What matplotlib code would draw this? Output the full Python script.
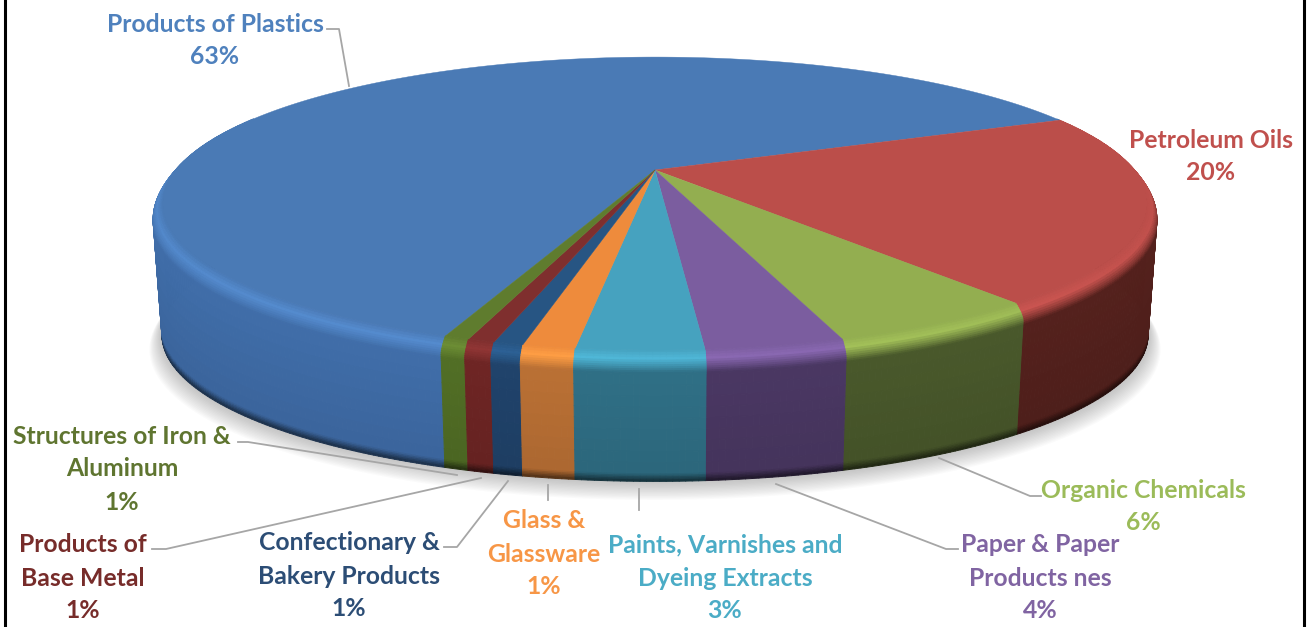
import numpy as np
import matplotlib
matplotlib.use("Agg")
import matplotlib.pyplot as plt
from matplotlib.collections import PolyCollection
from matplotlib.colors import to_rgb

plt.rcParams['font.family'] = ['Lato', 'DejaVu Sans']

# share of each slice (labels are rounded)
categories = ["Products of Plastics", "Petroleum Oils", "Organic Chemicals",
              "Paper & Paper\nProducts nes", "Paints, Varnishes and\nDyeing Extracts",
              "Glass &\nGlassware", "Confectionary &\nBakery Products",
              "Products of\nBase Metal", "Structures of Iron &\nAluminum"]
values = [63.03, 20.8, 5.65, 3.66, 3.34, 1.38, 0.78, 0.71, 0.66]
pct_labels = ["63%", "20%", "6%", "4%", "3%", "1%", "1%", "1%", "1%"]

top_colors = ["#4A7AB5", "#BB4E4A", "#93AE50", "#7B5D9F", "#46A2BF",
              "#EE8B3C", "#275583", "#7F2F2E", "#5F7C2E"]
wall_colors = ["#3E6AA4", "#52201C", "#47562A", "#483660", "#2E6C82",
               "#B56D33", "#1F4168", "#6B2423", "#4F6B24"]
text_colors = ["#4F81BD", "#C0504D", "#9BBB59", "#8064A2", "#4BACC6",
               "#F79646", "#2C4D75", "#772C2A", "#5F7530"]

# where the text goes: centre x, y of first line
label_pos = [(215, 24), (1211, 140), (1143, 490), (1040, 545), (725, 545),
             (544, 521), (349, 543), (83, 545), (122, 436)]
line_step = 33

leaders = [
    [(327, 29), (339, 29), (349, 86)],
    [(939, 458), (1030, 496), (1041, 496)],
    [(776, 484), (946, 549), (958, 549)],
    [(639, 489), (639, 510)],
    [(548, 485), (548, 500)],
    [(508, 481), (457, 547), (444, 547)],
    [(481, 478), (166, 549), (152, 549)],
    [(457, 475), (248, 442), (238, 442)],
]

# projection of the disc
CX, CY = 655, 170
A, B, K = 479, 138.8, 0.229
DEPTH = 131
START = 249.9
BEVEL = 0.12


def ring(theta, h=0.0, grow=0.0):
    t = np.radians(theta)
    x, y = np.cos(t), np.sin(t)
    # rim swells out over the bevel, then the wall narrows a little
    if h < BEVEL:
        s = 1 + 0.02 * np.sin(0.5 * np.pi * h / BEVEL)
    else:
        s = 1.02 - 0.018 * (h - BEVEL) / (1 - BEVEL)
    s = s * (1 + grow)
    d = 1 + K * y
    return CX + s * A * x / d, CY + DEPTH * h - s * B * y / d


def mix(c1, c2, w):
    return np.asarray(c1) * (1 - w) + np.asarray(c2) * w


fig = plt.figure(figsize=(13.12, 6.27), dpi=100)
ax = fig.add_axes([0, 0, 1, 1])
ax.set_xlim(0, 1312)
ax.set_ylim(627, 0)
ax.axis('off')

# soft shadow under the disc
th = np.linspace(0, 360, 361)
for i in range(14):
    sx, sy = ring(th, 1.0, 0.002 + 0.0018 * i)
    ax.fill(sx, sy + 1 + 1.0 * i, color='#707070', alpha=0.03, lw=0, zorder=1)

fracs = np.array(values) / np.sum(values)
edges = START - np.concatenate([[0], np.cumsum(fracs)]) * 360
heights = np.concatenate([np.linspace(0, 0.16, 12),
                          np.linspace(0.16, 0.94, 10)[1:],
                          np.linspace(0.94, 1, 6)[1:]])

# walls, as small cells so the bevel and the shading can vary
cells = []
for i in range(len(values)):
    n = max(int((edges[i] - edges[i + 1]) / 0.6), 3)
    angs = np.linspace(edges[i], edges[i + 1], n + 1)
    top = np.array(to_rgb(top_colors[i]))
    wall = np.array(to_rgb(wall_colors[i]))
    for j in range(n):
        am = 0.5 * (angs[j] + angs[j + 1])
        if np.sin(np.radians(am)) > 0.4:
            continue
        # highlight is strongest on the front left, nearly gone on the right
        glow = np.clip(0.4 + 0.6 * np.cos(np.radians(am - 240)), 0, 1)
        for h0, h1 in zip(heights[:-1], heights[1:]):
            xa, ya = ring(angs[j], h0)
            xb, yb = ring(angs[j + 1], h0)
            xc, yc = ring(angs[j + 1], h1)
            xd, yd = ring(angs[j], h1)
            hm = 0.5 * (h0 + h1)
            light = np.minimum(top * 1.14, 1)
            if hm < 0.05:
                c = mix(top, light, glow * hm / 0.05)
            elif hm < 0.15:
                c = mix(mix(top, light, glow), wall, (hm - 0.05) / 0.10)
            else:
                c = wall * (1.03 - 0.10 * (hm - 0.15))
                if hm > 0.94:
                    c = c * (1 - 0.55 * (hm - 0.94) / 0.06)
            cells.append((np.sin(np.radians(am)),
                          [(xa, ya), (xb, yb), (xc, yc), (xd, yd)],
                          np.clip(c, 0, 1)))

# back cells first so the front ones cover them
cells.sort(key=lambda c: -c[0])
ax.add_collection(PolyCollection([c[1] for c in cells],
                                 facecolors=[c[2] for c in cells],
                                 edgecolors='face', linewidths=0.7, zorder=2))

# flat top of the disc
for i in range(len(values)):
    angs = np.linspace(edges[i], edges[i + 1], 240)
    sx, sy = ring(angs)
    ax.fill(np.r_[CX, sx], np.r_[CY, sy], color=top_colors[i], lw=0.3, zorder=3)

for pts in leaders:
    xs, ys = zip(*pts)
    ax.plot(xs, ys, color='#A6A6A6', lw=1.3, zorder=4)

for name, pct, pos, col in zip(categories, pct_labels, label_pos, text_colors):
    for n, line in enumerate(name.split("\n") + [pct]):
        ax.text(pos[0], pos[1] + n * line_step, line, color=col, fontsize=17.8,
                fontweight='bold', ha='center', va='center', zorder=5)

# frame of the original screenshot
ax.plot([4.5, 4.5], [0, 627], color='black', lw=2.2, zorder=6)
ax.plot([1303.5, 1303.5], [0, 627], color='black', lw=2.2, zorder=6)

fig.savefig('out.png', dpi=100, facecolor='white')
